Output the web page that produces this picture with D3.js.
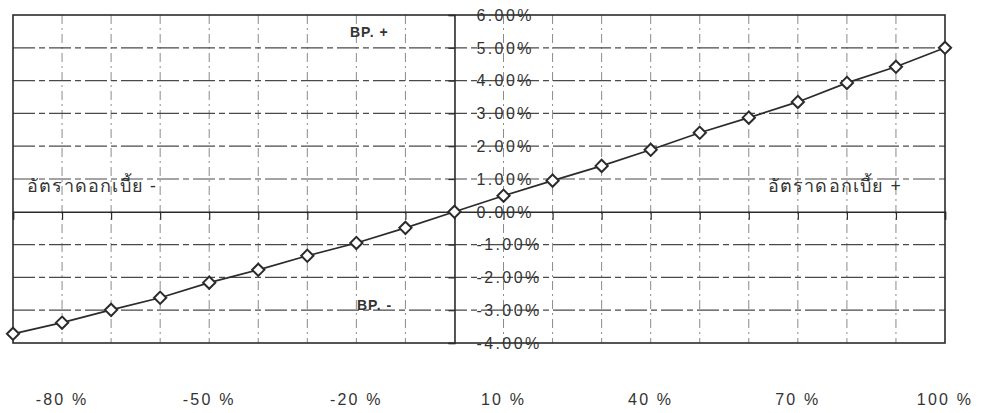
<!DOCTYPE html>
<html>
<head>
<meta charset="utf-8">
<script src="https://cdn.jsdelivr.net/npm/d3@7"></script>
<style>
  html, body { margin: 0; padding: 0; background: #fff; }
  svg { display: block; }
</style>
</head>
<body>
<svg id="chart" width="983" height="413"></svg>
<script>
// Change in interest rate (%) along the category axis
const rateChanges = [-90, -80, -70, -60, -50, -40, -30, -20, -10, 0, 10, 20, 30, 40, 50, 60, 70, 80, 90, 100];
// Resulting change in value (%, basis-point effect)
const valueChanges = [-3.72, -3.38, -2.99, -2.62, -2.16, -1.77, -1.34, -0.95, -0.49, 0.00,
                      0.49, 0.95, 1.40, 1.89, 2.41, 2.87, 3.35, 3.93, 4.42, 5.00];
// Category labels printed under the chart
const xTickLabels = [-80, -50, -20, 10, 40, 70, 100];
// Vertical axis ticks
const yTicks = [6, 5, 4, 3, 2, 1, 0, -1, -2, -3, -4];

const svg = d3.select("#chart");
const ink = "#2b2b2b";
const plot = { left: 13, right: 945, top: 15, bottom: 343 };

const x = d3.scalePoint().domain(rateChanges).range([plot.left, plot.right]);
const y = d3.scaleLinear().domain([-4, 6]).range([plot.bottom, plot.top]);

// vertical dashed gridlines at each category
svg.append("g")
  .selectAll("line")
  .data(rateChanges.filter(d => d !== 0 && d !== -90 && d !== 100))
  .join("line")
  .attr("x1", d => x(d)).attr("x2", d => x(d))
  .attr("y1", plot.top).attr("y2", plot.bottom)
  .attr("stroke", "#8a8a8a").attr("stroke-width", 1)
  .attr("stroke-dasharray", "9,4,2,4");

// horizontal dashed gridlines at each percent
svg.append("g")
  .selectAll("line")
  .data(yTicks.filter(d => d !== 0 && d !== 6 && d !== -4))
  .join("line")
  .attr("x1", plot.left).attr("x2", plot.right)
  .attr("y1", d => y(d)).attr("y2", d => y(d))
  .attr("stroke", "#4a4a4a").attr("stroke-width", 1.2)
  .attr("stroke-dasharray", "22,4,6,4");

// plot frame
svg.append("rect")
  .attr("x", plot.left).attr("y", plot.top)
  .attr("width", plot.right - plot.left).attr("height", plot.bottom - plot.top)
  .attr("fill", "none").attr("stroke", ink).attr("stroke-width", 1.6);

// horizontal axis at 0% with tick marks hanging below
const xAxis = svg.append("g")
  .attr("transform", `translate(0,${y(0)})`)
  .call(d3.axisBottom(x).tickSize(8).tickFormat(""));
xAxis.select(".domain").attr("stroke", ink).attr("stroke-width", 1.6);
xAxis.selectAll(".tick line").attr("stroke", ink).attr("stroke-width", 1.2);

// vertical axis at the 0 category, labels to its right
const yAxis = svg.append("g")
  .attr("transform", `translate(${x(0)},0)`)
  .call(d3.axisLeft(y).tickValues(yTicks).tickSize(6).tickFormat(""));
yAxis.select(".domain").attr("stroke", ink).attr("stroke-width", 1.6);
yAxis.selectAll(".tick line").attr("stroke", ink).attr("stroke-width", 1.2);

const pct = d => (d < 0 ? "-" : "") + Math.abs(d).toFixed(2) + "%";

svg.append("g")
  .selectAll("text")
  .data(yTicks)
  .join("text")
  .attr("x", x(0) + 22)
  .attr("y", d => y(d))
  .attr("dy", "0.36em")
  .attr("font-family", "'Liberation Sans', Arial, sans-serif")
  .attr("font-size", 16)
  .attr("letter-spacing", 2.4)
  .attr("fill", "#333")
  .text(pct);

// category labels below the chart
svg.append("g")
  .selectAll("text")
  .data(xTickLabels)
  .join("text")
  .attr("x", d => x(d))
  .attr("y", 405)
  .attr("text-anchor", "middle")
  .attr("font-family", "'Liberation Sans', Arial, sans-serif")
  .attr("font-size", 16)
  .attr("letter-spacing", 2.2)
  .attr("fill", "#333")
  .text(d => (d < 0 ? "-" : "") + Math.abs(d) + " %");

// data line with diamond markers
svg.append("path")
  .datum(rateChanges.map((r, i) => [r, valueChanges[i]]))
  .attr("fill", "none")
  .attr("stroke", ink).attr("stroke-width", 1.7)
  .attr("d", d3.line().x(d => x(d[0])).y(d => y(d[1])));

const diamond = d3.symbol().type(d3.symbolDiamond2).size(95);
svg.append("g")
  .selectAll("path")
  .data(rateChanges.map((r, i) => [r, valueChanges[i]]))
  .join("path")
  .attr("transform", d => `translate(${x(d[0])},${y(d[1])})`)
  .attr("d", diamond)
  .attr("fill", "#fff").attr("stroke", ink).attr("stroke-width", 2);

// quadrant annotations
const note = (tx, ty, s, opts) => svg.append("text")
  .attr("x", tx).attr("y", ty).attr("dy", "0.36em")
  .attr("text-anchor", opts.anchor || "start")
  .attr("font-family", opts.family)
  .attr("font-size", opts.size)
  .attr("font-weight", opts.weight || "normal")
  .attr("letter-spacing", opts.spacing || 0)
  .attr("fill", "#333")
  .text(s);

const bpStyle = { family: "'Liberation Sans', Arial, sans-serif", size: 14, weight: "bold", spacing: 1 };
note(350, 32, "BP. +", bpStyle);
note(357, 305, "BP. -", bpStyle);

const thaiStyle = { family: "'Noto Sans', 'DejaVu Sans', sans-serif", size: 18, spacing: 1.2 };
note(27, 186, "อัตราดอกเบี้ย -", thaiStyle);
note(902, 186, "อัตราดอกเบี้ย +", Object.assign({ anchor: "end" }, thaiStyle));
</script>
</body>
</html>
